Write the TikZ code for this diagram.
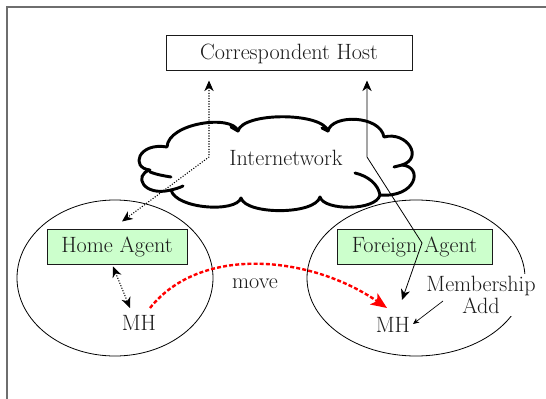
\documentclass[tikz,border=0pt]{standalone}
\usetikzlibrary{arrows.meta,calc,shapes.geometric}
\definecolor{agentgreen}{HTML}{CCFFCC}
\definecolor{framegray}{HTML}{6E6E6E}
\definecolor{inkgray}{HTML}{1A1A1A}
\definecolor{movered}{HTML}{FF0000}
\begin{document}
\begin{tikzpicture}[x=0.75pt,y=-0.75pt,
  every node/.style={font=\fontsize{16.6}{16.5}\selectfont, text=inkgray},
  hostbox/.style={draw=inkgray, line width=0.75pt, minimum width=184.5pt, minimum height=26.25pt, inner sep=0pt},
  agentbox/.style={draw=inkgray, fill=agentgreen, line width=0.75pt, minimum height=26.25pt, inner sep=0pt},
  cell/.style={draw=black, ellipse, line width=0.6pt, inner sep=0pt},
  cloudline/.style={draw=black, line width=2.2pt, line join=round, line cap=round},
  dotlink/.style={line width=0.8pt, dash pattern=on 0.8pt off 1.2pt, {Stealth[length=8pt,width=7pt,inset=2.5pt]}-{Stealth[length=8pt,width=7pt,inset=2.5pt]}},
  solidlink/.style={line width=0.6pt, {Stealth[length=8pt,width=7pt,inset=2.5pt]}-{Stealth[length=8pt,width=7pt,inset=2.5pt]}},
  movelink/.style={draw=movered, line width=1.8pt, dash pattern=on 3pt off 1.6pt, -{Stealth[length=12pt,width=10pt,inset=3pt]}},
  joinlink/.style={line width=0.5pt, -{Stealth[length=4.5pt,width=4pt,inset=1.2pt]}}
]
\useasboundingbox (0,0) rectangle (546,399);

% page frame (top and left edges)
\draw[framegray, line width=0.8pt] (7,399) -- (7,7) -- (546,7);

% the two networks
\node[cell, minimum width=147pt, minimum height=117pt] (homenet) at (115,278) {};
\node[cell, minimum width=163.5pt, minimum height=117pt] (foreignnet) at (416,278) {};

% host and agents
\node[hostbox] (ch) at (289,53.5) {Correspondent Host};
\node[agentbox, minimum width=105pt] (ha) at (117,246.5) {Home Agent};
\node[agentbox, minimum width=116.25pt] (fa) at (414.5,246.5) {Foreign Agent};

% internetwork cloud
\draw[cloudline] (167,147) .. controls (168,123) and (232,114) .. (238,131)
  .. controls (243,112) and (322,112) .. (328,131)
  .. controls (332,114) and (380,115) .. (384,137)
  .. controls (407,131) and (424,158) .. (402,165)
  .. controls (424,167) and (416,198) .. (380,195)
  .. controls (376,211) and (324,211) .. (320,197)
  .. controls (315,215) and (246,215) .. (241,198)
  .. controls (236,213) and (176,209) .. (171,190)
  .. controls (143,197) and (133,175) .. (150,170)
  .. controls (130,168) and (138,142) .. (167,147);
\draw[cloudline] (150,172) .. controls (158,175) and (165,176) .. (171,177);
\draw[cloudline] (171,190) .. controls (175,189) and (179,188) .. (183,186);
\draw[cloudline] (231,127) -- (238,131);
\draw[cloudline] (322,128) -- (328,131);
\draw[cloudline] (402,165) -- (394,167);
\draw[cloudline] (355,173) .. controls (368,176) and (378,184) .. (380,195);
\node (net) at (286,158) {Internetwork};

% mobile host positions and labels
\node (mhh) at (139,323) {MH};
\node (mhf) at (393,325) {MH};
\node (mv) at (255,284) {move};

% routes through the internetwork
\coordinate (bendL) at (209,157);
\coordinate (bendR) at (367,157);
\coordinate (kink) at (422,243);
\draw[dotlink] ([shift={(-80,9)}]ch.south) -- (bendL) -- ([shift={(5,-7)}]ha.north);
\draw[solidlink] ([shift={(78,9)}]ch.south) -- (bendR) -- (kink) -- ([shift={(9,-25)}]mhf.center);
\draw[dotlink] ([shift={(-4,2)}]ha.south) -- ([shift={(-9,-15)}]mhh.center);

% movement of the mobile host
\draw[movelink] ([shift={(11,-15)}]mhh.center) .. controls (200,245) and (310,255) .. ([shift={(-6,-17)}]mhf.center);

% membership registration
\node[fill=white, align=center, inner sep=2pt] (ma) at (481,295) {Membership\\Add};
\coordinate (mafoot) at (443,301);
\draw[joinlink] (mafoot) -- ([shift={(20,-1)}]mhf.center);
\end{tikzpicture}
\end{document}
